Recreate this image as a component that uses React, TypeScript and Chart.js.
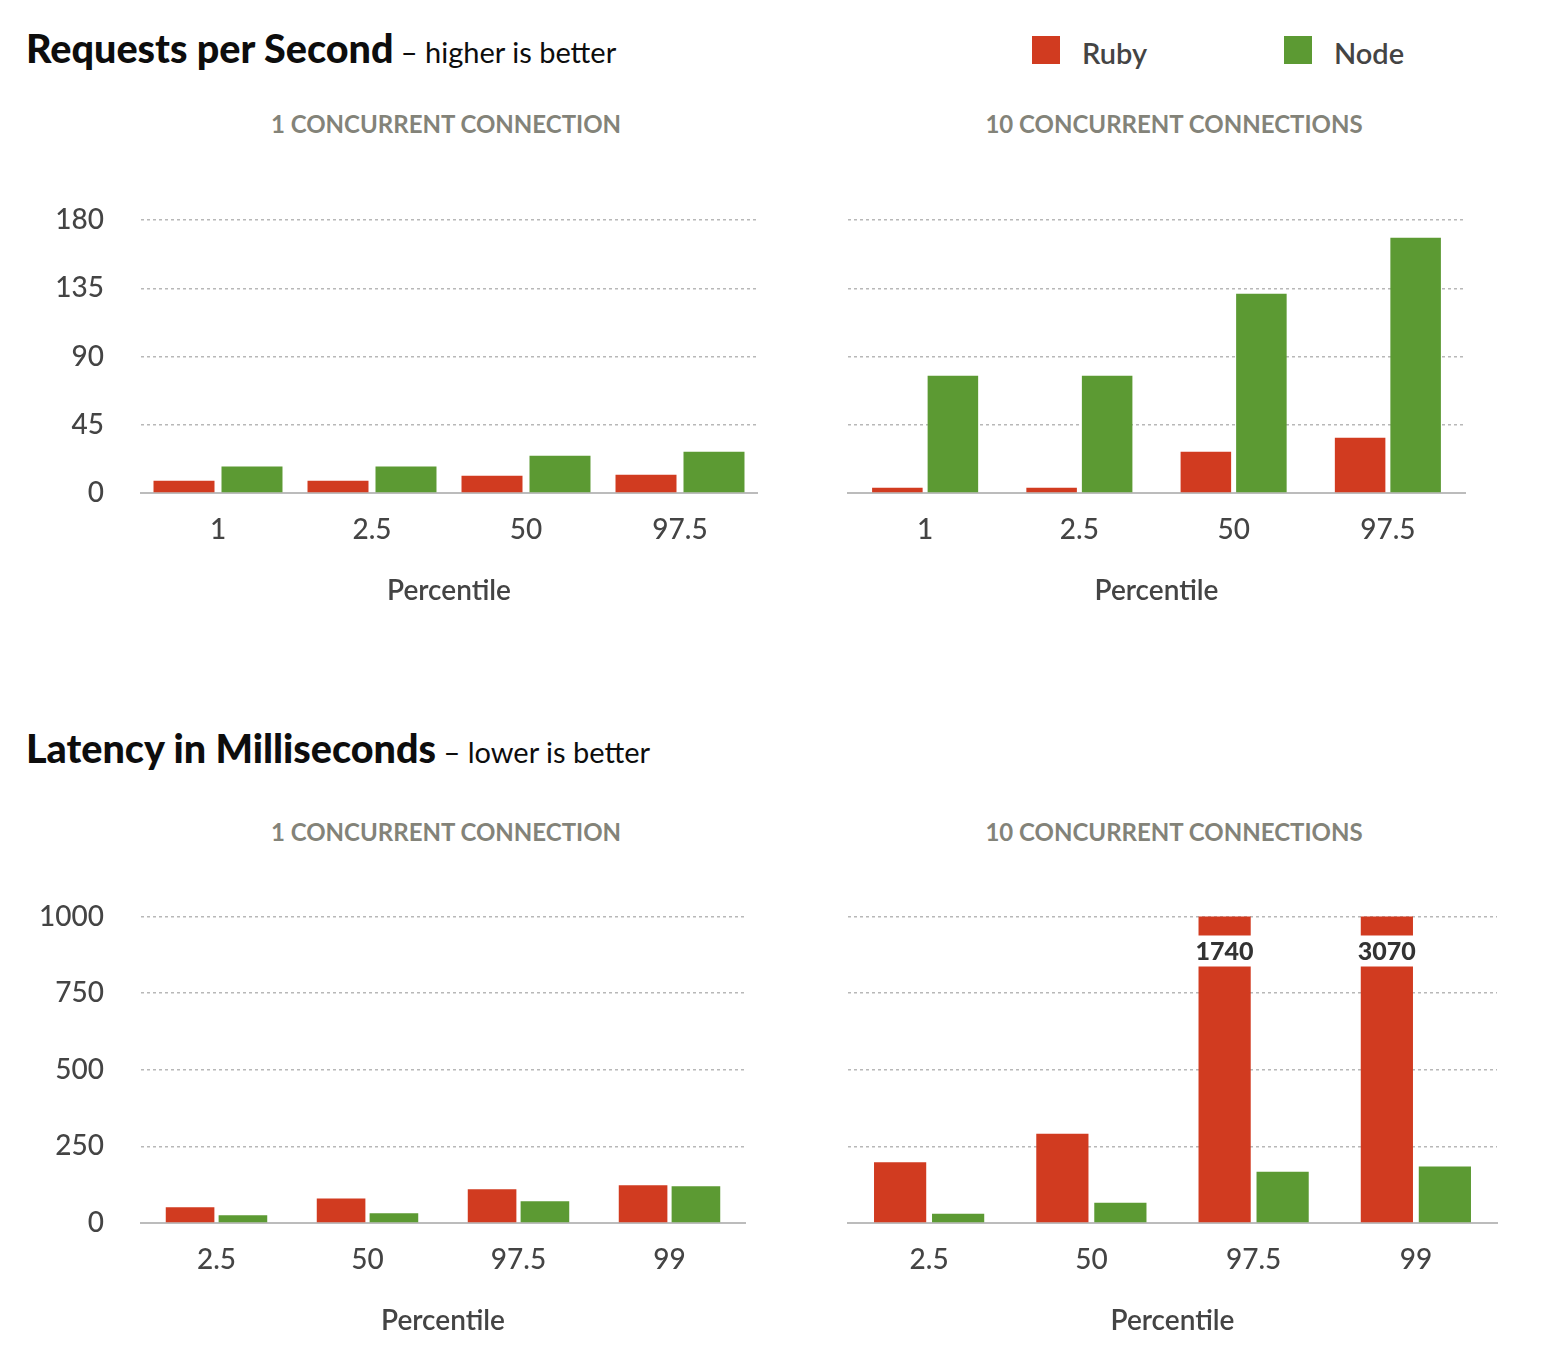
import React, { useEffect, useRef } from 'react';
import Chart from 'chart.js/auto';

const RUBY = '#d13b20';
const NODE = '#5c9a33';
const FONT = 'Lato, "Noto Sans", sans-serif';
const TEXT = '#444444';

// requests per second
const rpsLabels = ['1', '2.5', '50', '97.5'];
const rpsRuby1 = [8.1, 8.1, 11.4, 12.1];
const rpsNode1 = [17.4, 17.4, 24.6, 27.2];
const rpsRuby10 = [3.5, 3.5, 27.2, 36.5];
const rpsNode10 = [77.3, 77.3, 131.4, 168.3];
const rpsTicks = [0, 45, 90, 135, 180];

// latency in ms
const latLabels = ['2.5', '50', '97.5', '99'];
const latRuby1 = [51, 80, 110, 123];
const latNode1 = [25, 32, 71, 120];
const latRuby10 = [198, 291, 1740, 3070];
const latNode10 = [30, 66, 167, 184];
const latTicks = [0, 250, 500, 750, 1000];

type Box = { x0: number; x1: number; y0: number; y1: number };
type Area = { l: number; r: number; t: number; b: number };

interface BarPanelProps {
  labels: string[];
  ruby: number[];
  node: number[];
  ticks: number[];
  showY: boolean;
  cat: number;
  bar: number;
  box: Box;
  area: Area;
}

// bars taller than the axis get cut and their real value written in the gap
const breakPlugin = {
  id: 'barBreak',
  afterDatasetsDraw(chart: any) {
    const max = chart.scales.y.max;
    const top = chart.chartArea.top;
    const ctx = chart.ctx;
    chart.data.datasets.forEach((ds: any, di: number) => {
      const meta = chart.getDatasetMeta(di);
      meta.data.forEach((el: any, i: number) => {
        const v = ds.data[i];
        if (v <= max) return;
        const { x, width } = el.getProps(['x', 'width'], true);
        ctx.save();
        ctx.fillStyle = '#ffffff';
        ctx.fillRect(x - width / 2 - 1, top + 19, width + 2, 31);
        ctx.font = `900 25px ${FONT}`;
        ctx.fillStyle = '#333333';
        ctx.textAlign = 'center';
        ctx.textBaseline = 'middle';
        ctx.fillText(String(v), x, top + 35);
        ctx.restore();
      });
    });
  },
};

const BarPanel: React.FC<BarPanelProps> = ({ labels, ruby, node, ticks, showY, cat, bar, box, area }) => {
  const canvasRef = useRef<HTMLCanvasElement | null>(null);

  useEffect(() => {
    const ctx = canvasRef.current?.getContext('2d');
    if (!ctx) return;
    const chart = new Chart(ctx, {
      type: 'bar',
      data: {
        labels,
        datasets: [
          { label: 'Ruby', data: ruby, backgroundColor: RUBY, clip: 0 as any },
          { label: 'Node', data: node, backgroundColor: NODE, clip: 0 as any },
        ],
      },
      options: {
        animation: false,
        responsive: true,
        maintainAspectRatio: false,
        categoryPercentage: cat,
        barPercentage: bar,
        layout: {
          padding: { top: area.t - box.y0, right: box.x1 - area.r, left: 0, bottom: 0 },
        },
        plugins: { legend: { display: false }, tooltip: { enabled: false } },
        scales: {
          x: {
            grid: { display: false },
            border: { display: true, color: '#bcbcbc', width: 2 },
            ticks: { color: TEXT, font: { family: FONT, size: 28, weight: 500 }, padding: 12 },
            title: {
              display: true,
              text: 'Percentile',
              color: TEXT,
              font: { family: FONT, size: 28, weight: 600 },
              padding: { top: 0, bottom: 22 },
            },
            afterFit: (s: any) => {
              s.height = box.y1 - area.b;
            },
          },
          y: {
            min: ticks[0],
            max: ticks[ticks.length - 1],
            afterBuildTicks: (s: any) => {
              s.ticks = ticks.map((v) => ({ value: v }));
            },
            grid: { color: '#b8b8b8', lineWidth: 1.5, drawTicks: false },
            border: { display: false, dash: [3, 3] },
            ticks: {
              display: showY,
              color: TEXT,
              font: { family: FONT, size: 28, weight: 500 },
              padding: 37,
              callback: (v: any) => String(v),
            },
            afterFit: (s: any) => {
              s.width = area.l - box.x0;
              s.paddingTop = 0;
              s.paddingBottom = 0;
            },
          },
        },
      },
      plugins: [breakPlugin],
    });
    return () => {
      chart.destroy();
    };
  }, [labels, ruby, node, ticks, showY, cat, bar, box, area]);

  return (
    <div
      style={{
        position: 'absolute',
        left: box.x0,
        top: box.y0,
        width: box.x1 - box.x0,
        height: box.y1 - box.y0,
      }}
    >
      <canvas ref={canvasRef} />
    </div>
  );
};

const SubTitle: React.FC<{ text: string; cx: number; top: number }> = ({ text, cx, top }) => (
  <div
    style={{
      position: 'absolute',
      left: cx,
      top,
      transform: 'translateX(-50%)',
      whiteSpace: 'nowrap',
      fontSize: 24,
      lineHeight: 1,
      fontWeight: 700,
      color: '#838379',
    }}
  >
    {text}
  </div>
);

const Heading: React.FC<{ main: string; note: string; top: number }> = ({ main, note, top }) => (
  <div style={{ position: 'absolute', left: 26, top, whiteSpace: 'nowrap', lineHeight: 1, color: '#0d0d0d' }}>
    <span style={{ fontSize: 39.5, fontWeight: 900 }}>{main}</span>
    <span style={{ fontSize: 29 }}> – {note}</span>
  </div>
);

const LegendItem: React.FC<{ color: string; text: string; x: number }> = ({ color, text, x }) => (
  <>
    <div style={{ position: 'absolute', left: x, top: 36, width: 28, height: 28, background: color }} />
    <div
      style={{
        position: 'absolute',
        left: x + 50,
        top: 38,
        fontSize: 29,
        lineHeight: 1,
        fontWeight: 600,
        color: TEXT,
      }}
    >
      {text}
    </div>
  </>
);

const boxTL = { x0: 0, x1: 780, y0: 190, y1: 630 };
const areaTL = { l: 141, r: 757, t: 220, b: 493 };
const boxTR = { x0: 820, x1: 1500, y0: 190, y1: 630 };
const areaTR = { l: 848, r: 1465, t: 220, b: 493 };
const boxBL = { x0: 0, x1: 780, y0: 880, y1: 1360 };
const areaBL = { l: 141, r: 745, t: 916.5, b: 1223 };
const boxBR = { x0: 820, x1: 1530, y0: 880, y1: 1360 };
const areaBR = { l: 848, r: 1497, t: 916.5, b: 1223 };

const App: React.FC = () => {
  return (
    <div
      style={{
        position: 'absolute',
        left: 0,
        top: 0,
        width: 1544,
        height: 1368,
        background: '#fff',
        fontFamily: FONT,
      }}
    >
      <Heading main="Requests per Second" note="higher is better" top={28} />
      <LegendItem color={RUBY} text="Ruby" x={1032} />
      <LegendItem color={NODE} text="Node" x={1284} />
      <SubTitle text="1 CONCURRENT CONNECTION" cx={446} top={112} />
      <SubTitle text="10 CONCURRENT CONNECTIONS" cx={1174} top={112} />
      <BarPanel labels={rpsLabels} ruby={rpsRuby1} node={rpsNode1} ticks={rpsTicks} showY={true} cat={0.883} bar={0.897} box={boxTL} area={areaTL} />
      <BarPanel labels={rpsLabels} ruby={rpsRuby10} node={rpsNode10} ticks={rpsTicks} showY={false} cat={0.72} bar={0.91} box={boxTR} area={areaTR} />

      <Heading main="Latency in Milliseconds" note="lower is better" top={728} />
      <SubTitle text="1 CONCURRENT CONNECTION" cx={446} top={820} />
      <SubTitle text="10 CONCURRENT CONNECTIONS" cx={1174} top={820} />
      <BarPanel labels={latLabels} ruby={latRuby1} node={latNode1} ticks={latTicks} showY={true} cat={0.7} bar={0.92} box={boxBL} area={areaBL} />
      <BarPanel labels={latLabels} ruby={latRuby10} node={latNode10} ticks={latTicks} showY={false} cat={0.715} bar={0.9} box={boxBR} area={areaBR} />
    </div>
  );
};

export default App;
